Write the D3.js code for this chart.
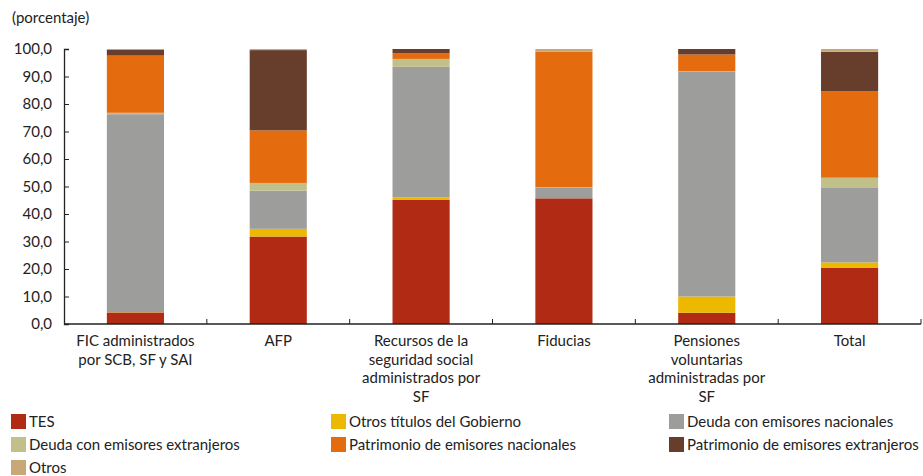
<!DOCTYPE html>
<html><head><meta charset="utf-8">
<script src="https://cdn.jsdelivr.net/npm/d3@7"></script>
<style>body{margin:0;background:#fff}svg{display:block}text{font-family:Lato,"Open Sans",sans-serif;fill:#222}</style>
</head><body><svg id="c" width="923" height="476"></svg>
<script>
const categories = [
  ["FIC administrados","por SCB, SF y SAI"],
  ["AFP"],
  ["Recursos de la","seguridad social","administrados por","SF"],
  ["Fiducias"],
  ["Pensiones","voluntarias","administradas por","SF"],
  ["Total"]
];
const seriesNames = ["TES","Otros títulos del Gobierno","Deuda con emisores nacionales","Deuda con emisores extranjeros","Patrimonio de emisores nacionales","Patrimonio de emisores extranjeros","Otros"];
const colors = ["#B02A14","#EDB800","#9D9D9C","#C2C08A","#E46C0E","#673E2C","#C8A876"];
const tes      = [4.2, 31.8, 45.1, 45.7, 4.1, 20.5];
const otrosGob = [0.1, 2.8, 0.9, 0.0, 5.9, 1.9];
const deudaNac = [72.0, 13.9, 47.5, 4.0, 81.9, 27.3];
const deudaExt = [0.5, 2.8, 2.9, 0.1, 0.1, 3.5];
const patrNac  = [20.8, 19.1, 2.1, 49.3, 6.0, 31.5];
const patrExt  = [2.2, 29.2, 1.5, 0.0, 2.0, 14.3];
const otros    = [0.2, 0.4, 0.0, 0.9, 0.0, 1.0];
const yTicks = [0,10,20,30,40,50,60,70,80,90,100];

const seriesVals = [tes, otrosGob, deudaNac, deudaExt, patrNac, patrExt, otros];
const table = categories.map((c,i)=>{const o={key:i};seriesNames.forEach((s,j)=>o[s]=seriesVals[j][i]);return o;});
const stack = d3.stack().keys(seriesNames)(table);

const svg = d3.select("#c");
const x0=64, x1=921, yTop=49, yBot=324;
const x = d3.scaleBand().domain(d3.range(categories.length)).range([x0,x1]).paddingInner(0.6).paddingOuter(0.3);
const y = d3.scaleLinear().domain([0,100]).range([yBot,yTop]);
const fmt = d => d3.format(".1f")(d).replace(".",",");

svg.append("text").attr("x",12).attr("y",23).attr("font-size",15).text("(porcentaje)");

// bars
stack.forEach((layer,j)=>{
  svg.append("g").selectAll("rect").data(layer).join("rect")
    .attr("x",d=>x(d.data.key)).attr("width",x.bandwidth())
    .attr("y",d=>y(d[1])).attr("height",d=>Math.max(0,y(d[0])-y(d[1])))
    .attr("fill",colors[j]);
});

// y axis
const ya = svg.append("g").attr("transform",`translate(${x0},0)`)
  .call(d3.axisLeft(y).tickValues(yTicks).tickFormat(fmt).tickSize(-5).tickPadding(12));
ya.select(".domain").attr("stroke","#222").attr("stroke-width",1.3);
ya.selectAll(".tick line").attr("stroke","#222");
ya.selectAll("text").attr("font-size",15).attr("font-family","Lato").attr("fill","#222");

// x axis
const xa = svg.append("g");
xa.append("line").attr("x1",x0).attr("x2",x1).attr("y1",yBot).attr("y2",yBot).attr("stroke","#222").attr("stroke-width",1.3);
d3.range(1,categories.length+1).forEach(i=>{
  const xx = x0 + i*x.step();
  xa.append("line").attr("x1",xx).attr("x2",xx).attr("y1",yBot).attr("y2",yBot-5).attr("stroke","#222");
});
categories.forEach((lines,i)=>{
  const t = xa.append("text").attr("text-anchor","middle").attr("font-size",15)
    .attr("x",x(i)+x.bandwidth()/2).attr("y",346);
  lines.forEach((l,k)=>t.append("tspan").attr("x",x(i)+x.bandwidth()/2).attr("dy",k?18.5:0).text(l));
});

// legend
const legX=[11,331,669];
seriesNames.forEach((s,j)=>{
  const col=j%3,row=Math.floor(j/3);
  const g=svg.append("g").attr("transform",`translate(${legX[col]},${414+row*23})`);
  g.append("rect").attr("width",15).attr("height",15).attr("fill",colors[j]);
  g.append("text").attr("x",18).attr("y",13).attr("font-size",15).text(s);
});
</script></body></html>
